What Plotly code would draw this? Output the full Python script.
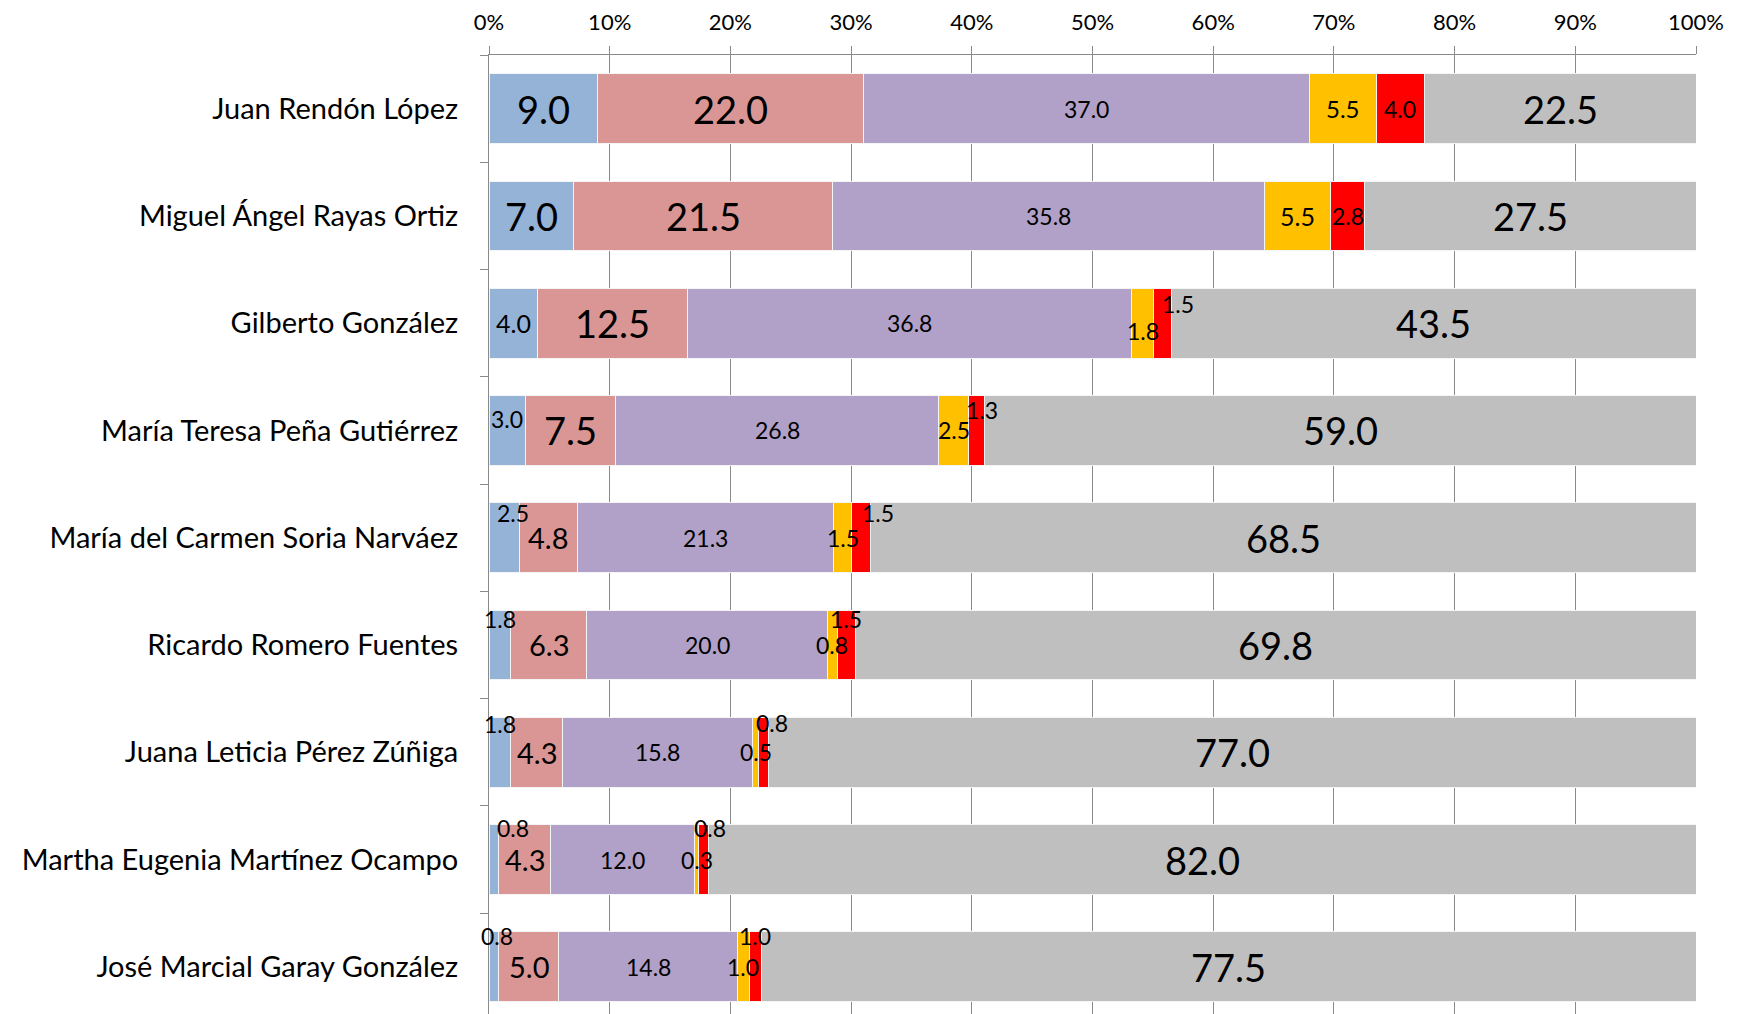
import plotly.graph_objects as go

# ---------------- data ----------------
candidates = [
    "Juan Rendón López",
    "Miguel Ángel Rayas Ortiz",
    "Gilberto González",
    "María Teresa Peña Gutiérrez",
    "María del Carmen Soria Narváez",
    "Ricardo Romero Fuentes",
    "Juana Leticia Pérez Zúñiga",
    "Martha Eugenia Martínez Ocampo",
    "José Marcial Garay González",
]
serie_1 = [9.0, 7.0, 4.0, 3.0, 2.5, 1.8, 1.8, 0.8, 0.8]
serie_2 = [22.0, 21.5, 12.5, 7.5, 4.8, 6.3, 4.3, 4.3, 5.0]
serie_3 = [37.0, 35.8, 36.8, 26.8, 21.3, 20.0, 15.8, 12.0, 14.8]
serie_4 = [5.5, 5.5, 1.8, 2.5, 1.5, 0.8, 0.5, 0.3, 1.0]
serie_5 = [4.0, 2.8, 1.5, 1.3, 1.5, 1.5, 0.8, 0.8, 1.0]
serie_6 = [22.5, 27.5, 43.5, 59.0, 68.5, 69.8, 77.0, 82.0, 77.5]
x_ticks = [0, 10, 20, 30, 40, 50, 60, 70, 80, 90, 100]

series = [serie_1, serie_2, serie_3, serie_4, serie_5, serie_6]

# ---------------- styles ----------------
colors = ["#95B3D7", "#DA9694", "#B1A0C7", "#FFC000", "#FF0000", "#BFBFBF"]
FONT = "Lato, 'Open Sans', sans-serif"
S, M, L = 23, 29, 38
label_sizes = [
    [L, L, M - 4, S, S, S, S, S, S],       # serie 1
    [L, L, L, L, M, M, M, M, M],           # serie 2
    [S, S, S, S, S, S, S, S, S],           # serie 3
    [S + 1, S + 2, S, S, S, S, S, S, S],   # serie 4
    [S, S, S, S, S, S, S, S, S],           # serie 5
    [L, L, L, L, L, L, L, L, L],           # serie 6
]
# pixel nudges of data labels (xshift, yshift) per (serie index, row)
label_nudge = {
    (3, 2): (0, -8), (4, 2): (16, 19),
    (0, 3): (0, 11), (4, 3): (5, 20),
    (0, 4): (9, 25), (4, 4): (17, 25),
    (0, 5): (0, 26), (4, 5): (0, 26),
    (0, 6): (0, 28), (4, 6): (8, 29),
    (0, 7): (19, 32), (4, 7): (7, 32),
    (0, 8): (3, 31), (4, 8): (0, 31),
}

fig = go.Figure()
for i, s in enumerate(series):
    fig.add_trace(go.Bar(
        y=candidates, x=s, orientation="h",
        marker=dict(color=colors[i], line=dict(color="#F4F4F4", width=1)),
        name=f"Serie {i + 1}", showlegend=False, hoverinfo="x+y",
    ))

# data labels as annotations centred on each segment
annotations = []
n = len(candidates)
for r in range(n):
    total = sum(s[r] for s in series)
    cum = 0.0
    for i, s in enumerate(series):
        v = s[r]
        cum += v
        xc = (cum - v / 2) / total * 100
        dx, dy = label_nudge.get((i, r), (0, 0))
        annotations.append(dict(
            x=xc, y=candidates[r], xref="x", yref="y",
            text=f"{v:.1f}", showarrow=False,
            font=dict(family=FONT, size=label_sizes[i][r], color="#000000"),
            xshift=dx, yshift=dy, xanchor="center", yanchor="middle",
        ))

fig.update_layout(
    width=1745, height=1014,
    barmode="stack", barnorm="percent", bargap=0.35,
    margin=dict(l=481, r=57, t=47, b=8, autoexpand=False),
    paper_bgcolor="white", plot_bgcolor="white",
    font=dict(family=FONT, color="#000000"),
    annotations=annotations,
    xaxis=dict(
        side="top", range=[0, 100], automargin=False,
        tickvals=x_ticks, ticktext=[f"{t}%" for t in x_ticks],
        tickfont=dict(family=FONT, size=22, color="#000000"),
        showgrid=True, gridcolor="#8A8A8A", gridwidth=1,
        showline=True, linecolor="#8A8A8A", linewidth=1,
        ticks="outside", ticklen=8, tickcolor="#8A8A8A",
        ticklabelstandoff=7, zeroline=False, fixedrange=True,
    ),
    yaxis=dict(
        categoryorder="array", categoryarray=candidates, automargin=False,
        range=[n - 0.56, -0.5],
        tickfont=dict(family=FONT, size=29, color="#000000"),
        showline=True, linecolor="#8A8A8A", linewidth=1,
        ticks="outside", ticklen=8, tickcolor="#8A8A8A", tickson="boundaries",
        ticklabelstandoff=24, showgrid=False, zeroline=False, fixedrange=True,
    ),
)

fig.write_html("out.html")
